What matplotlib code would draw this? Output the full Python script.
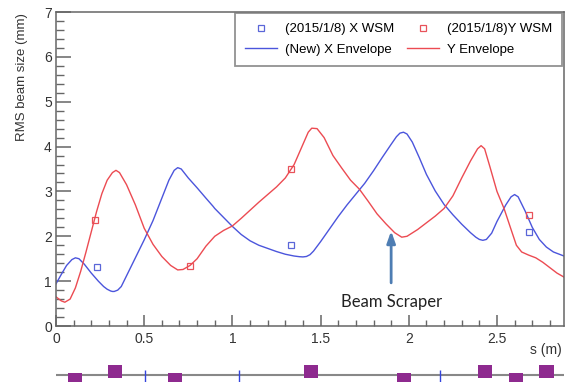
import matplotlib
matplotlib.use("Agg")
import matplotlib.pyplot as plt
from matplotlib.ticker import MultipleLocator

plt.rcParams["font.family"] = ["Liberation Sans", "DejaVu Sans"]

# measured beam sizes (wire scanners)
wsm_s = [0.23, 1.33, 2.68]
wsm_x = [1.32, 1.81, 2.10]
wsm_ys = [0.22, 0.76, 1.33, 2.68]
wsm_y = [2.36, 1.34, 3.50, 2.47]

# simulated envelopes
env_x_s = [0.00, 0.03, 0.06, 0.09, 0.11, 0.13, 0.16, 0.20, 0.24, 0.27, 0.29, 0.31,
           0.32, 0.33, 0.35, 0.37, 0.40, 0.45, 0.50, 0.55, 0.60, 0.64, 0.67, 0.69,
           0.71, 0.75, 0.80, 0.85, 0.89, 0.90, 0.95, 1.00, 1.05, 1.10, 1.15, 1.20,
           1.25, 1.30, 1.35, 1.38, 1.40, 1.42, 1.44, 1.46, 1.50, 1.55, 1.60, 1.65,
           1.70, 1.75, 1.80, 1.85, 1.90, 1.93, 1.95, 1.97, 1.99, 2.02, 2.06, 2.10,
           2.15, 2.20, 2.25, 2.30, 2.35, 2.38, 2.40, 2.42, 2.44, 2.47, 2.50, 2.55,
           2.58, 2.60, 2.62, 2.66, 2.70, 2.74, 2.78, 2.82, 2.88]
env_x = [0.94, 1.15, 1.35, 1.48, 1.52, 1.50, 1.38, 1.18, 1.00, 0.88, 0.82, 0.78,
         0.77, 0.77, 0.80, 0.88, 1.12, 1.52, 1.92, 2.35, 2.85, 3.25, 3.47, 3.53,
         3.50, 3.30, 3.08, 2.85, 2.67, 2.62, 2.42, 2.22, 2.04, 1.90, 1.80, 1.73,
         1.66, 1.60, 1.56, 1.545, 1.54, 1.55, 1.59, 1.67, 1.88, 2.16, 2.44, 2.70,
         2.94, 3.18, 3.46, 3.76, 4.05, 4.22, 4.30, 4.32, 4.28, 4.10, 3.75, 3.38,
         3.01, 2.71, 2.48, 2.27, 2.08, 1.98, 1.93, 1.91, 1.93, 2.07, 2.33, 2.70,
         2.88, 2.93, 2.88, 2.56, 2.20, 1.93, 1.76, 1.65, 1.56]

env_y_s = [0.00, 0.03, 0.05, 0.08, 0.11, 0.14, 0.17, 0.20, 0.23, 0.26, 0.29, 0.32,
           0.34, 0.36, 0.40, 0.45, 0.50, 0.55, 0.60, 0.65, 0.69, 0.72, 0.76, 0.80,
           0.85, 0.90, 0.95, 1.00, 1.05, 1.10, 1.15, 1.20, 1.25, 1.30, 1.35, 1.40,
           1.43, 1.45, 1.48, 1.52, 1.57, 1.62, 1.67, 1.72, 1.77, 1.82, 1.87, 1.92,
           1.96, 1.99, 2.05, 2.10, 2.15, 2.20, 2.25, 2.30, 2.35, 2.39, 2.41, 2.43,
           2.46, 2.50, 2.54, 2.58, 2.61, 2.64, 2.68, 2.72, 2.76, 2.80, 2.84, 2.88]
env_y = [0.65, 0.56, 0.53, 0.60, 0.85, 1.22, 1.65, 2.10, 2.55, 2.95, 3.25, 3.42,
         3.47, 3.42, 3.15, 2.70, 2.18, 1.82, 1.55, 1.35, 1.25, 1.26, 1.35, 1.50,
         1.78, 2.00, 2.13, 2.23, 2.40, 2.58, 2.76, 2.93, 3.10, 3.30, 3.60, 4.05,
         4.32, 4.41, 4.40, 4.20, 3.80, 3.52, 3.25, 3.05, 2.78, 2.50, 2.28, 2.08,
         1.98, 2.00, 2.15, 2.30, 2.45, 2.62, 2.90, 3.30, 3.68, 3.95, 4.02, 3.95,
         3.55, 3.00, 2.62, 2.15, 1.80, 1.65, 1.58, 1.52, 1.42, 1.30, 1.18, 1.09]

# lattice: quadrupoles (side +1 focusing / -1 defocusing) and thin elements
quad_s = [0.108, 0.334, 0.674, 1.447, 1.973, 2.432, 2.608, 2.78]
quad_side = [-1, 1, -1, 1, -1, 1, -1, 1]
thin_s = [0.504, 1.036, 2.178]

scraper_s = 1.90

W, H = 567, 382
fig = plt.figure(figsize=(W / 100, H / 100), dpi=100)
ax = fig.add_axes([56 / W, 56 / H, 508 / W, 314 / H])

blue, red = "#4b55dc", "#ec4b52"
ax.plot(wsm_s, wsm_x, "s", mfc="none", mec="#5a66d8", ms=5, mew=0.9,
        label="(2015/1/8) X WSM")
ax.plot(env_x_s, env_x, color=blue, lw=1.0, label="(New) X Envelope")
ax.plot(wsm_ys, wsm_y, "s", mfc="none", mec="#e8525a", ms=5, mew=0.9,
        label="(2015/1/8)Y WSM")
ax.plot(env_y_s, env_y, color=red, lw=1.0, label="Y Envelope")

ax.set_xlim(0, 2.88)
ax.set_ylim(0, 7)
ax.xaxis.set_major_locator(MultipleLocator(0.5))
ax.xaxis.set_minor_locator(MultipleLocator(0.1))
ax.yaxis.set_major_locator(MultipleLocator(1))
ax.yaxis.set_minor_locator(MultipleLocator(0.2))
ax.tick_params(axis="both", which="both", direction="in", colors="#666666",
               labelcolor="#333333", labelsize=10, top=False, right=False)
ax.tick_params(axis="y", which="major", length=11, width=1.1, pad=3)
ax.tick_params(axis="y", which="minor", length=6, width=1.0)
ax.tick_params(axis="x", which="major", length=8, width=1.1, pad=4)
ax.tick_params(axis="x", which="minor", length=4, width=1.0)
ax.set_xticks([0, 0.5, 1, 1.5, 2, 2.5])
ax.set_xticklabels(["0", "0.5", "1", "1.5", "2", "2.5"])
for sp in ax.spines.values():
    sp.set_color("#666666")
    sp.set_linewidth(1.1)

fig.text(22 / W, 1 - 13 / H, "RMS beam size (mm)", rotation=90, ha="center",
         va="top", fontsize=9.5, color="#333333")
fig.text(562 / W, 1 - 350 / H, "s (m)", ha="right", va="center", fontsize=10,
         color="#333333")

leg = ax.legend(ncol=2, loc="upper right", bbox_to_anchor=(562 / W, 1 - 13 / H),
                bbox_transform=fig.transFigure, fontsize=9.5, frameon=True,
                fancybox=False, handlelength=2.4, handletextpad=0.6,
                columnspacing=1.0, borderpad=0.75, labelspacing=0.65,
                borderaxespad=0)
leg.get_frame().set_edgecolor("#777777")
leg.get_frame().set_linewidth(1.3)

ax.annotate("", xy=(scraper_s, 2.18), xytext=(scraper_s, 0.90),
            arrowprops=dict(arrowstyle="-|>,head_width=0.25,head_length=0.7",
                            color="#4e7db3", lw=2))
ax.text(scraper_s + 0.005, 0.54, "Beam Scraper", ha="center", va="center",
        fontsize=12, family=["Lato", "DejaVu Sans"], color="#222222")

# lattice strip under the plot
ax2 = fig.add_axes([56 / W, 0, 508 / W, 22 / H])
ax2.set_xlim(0, 2.88)
ax2.set_ylim(-0.54, 1.15)
ax2.axis("off")
ax2.axhline(0, color="#888888", lw=1.5, zorder=1)
for s, side in zip(quad_s, quad_side):
    bottom = -0.23 if side > 0 else -0.85
    ax2.bar(s, 1.0, bottom=bottom, width=0.082, color="#8e2a8f", zorder=2)
ax2.vlines(thin_s, -0.54, 0.38, color="#3344dd", lw=1.0, zorder=3)

fig.savefig("out.png", dpi=100)
